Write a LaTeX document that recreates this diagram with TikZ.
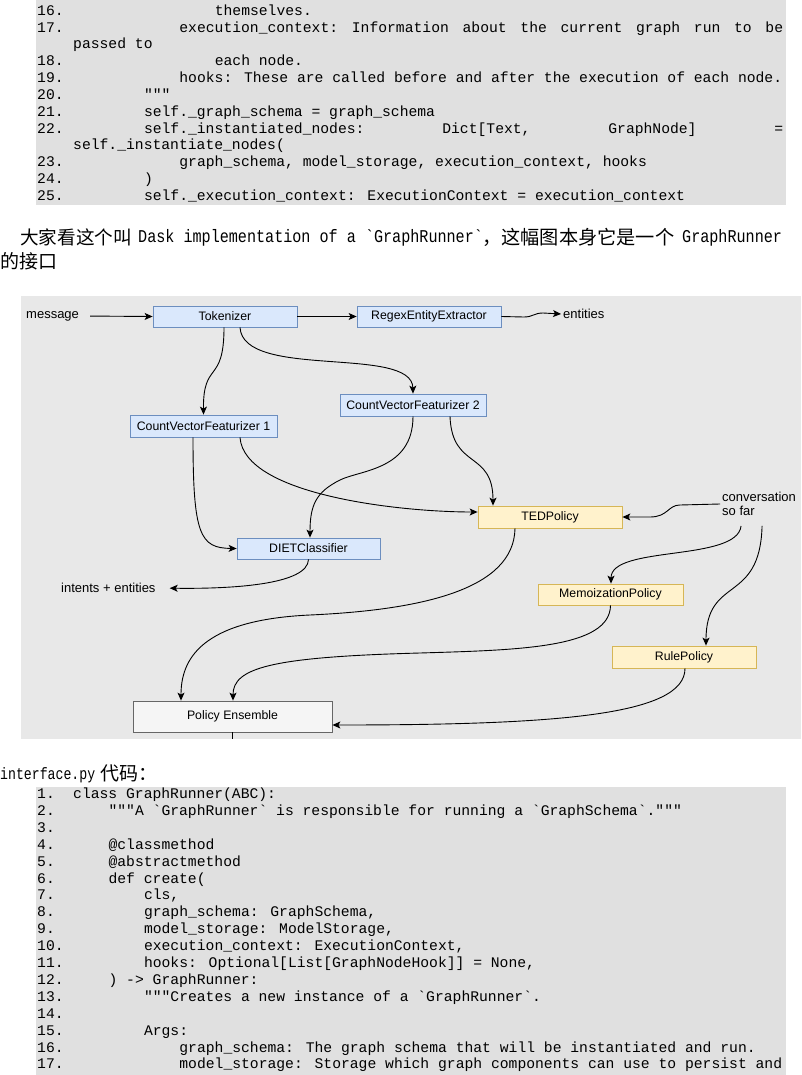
\documentclass[tikz,border=0pt]{standalone}
\usepackage{fontspec}
\usepackage{graphicx}
\setmainfont{Liberation Sans}
\newfontfamily\cjk{Noto Sans CJK SC}
\newfontfamily\mono{Liberation Mono}
\usetikzlibrary{arrows.meta}
\definecolor{codebg}{RGB}{224,224,224}
\definecolor{diagbg}{RGB}{232,232,232}
\definecolor{bluefill}{HTML}{DAE8FC}
\definecolor{bluebd}{HTML}{6C8EBF}
\definecolor{yelfill}{HTML}{FFF2CC}
\definecolor{yelbd}{HTML}{D6B656}
\definecolor{pefill}{HTML}{F5F5F5}
\definecolor{pebd}{HTML}{666666}
\newcommand\bq{\textasciigrave}
\newcommand\tq{\textquotedbl\textquotedbl\textquotedbl}
\newcommand\codefont{\mono\fontsize{14.7}{17}\selectfont}
\newcommand\proselat[1]{\scalebox{0.84}[1]{\mono\fontsize{18}{20}\selectfont #1}}
\begin{document}
\begin{tikzpicture}[x=1pt,y=-1pt,
 code/.style={anchor=base west,inner sep=0pt,font=\codefont},
 prose/.style={anchor=base west,inner sep=0pt},
 nbox/.style={minimum width=#1,minimum height=21pt,inner sep=0pt,line width=0.8pt,font=\fontsize{12.3}{14}\selectfont},
 nbox/.default=144pt,
 bluebox/.style={nbox=#1,draw=bluebd,fill=bluefill},
 bluebox/.default=144pt,
 yelbox/.style={nbox=#1,draw=yelbd,fill=yelfill},
 yelbox/.default=144pt,
 lbl/.style={inner sep=2pt,font=\fontsize{13}{14}\selectfont},
 arr/.style={-{Stealth[length=8pt,width=7pt,inset=2pt]},line width=0.9pt},
]
\useasboundingbox (0,0) rectangle (801,1075);
\fill[white] (0,0) rectangle (801,1075);
% ---------- code block 1 ----------
\fill[codebg] (36,0) rectangle (786,205);
\node[code] (n16) at (37,15.2) {16.};
\node[code] (t16) at (214.6,15.2) {themselves.};
\node[code] (n17) at (37,32.1) {17.};
\node[code] (t17) at (179.2,32.1) {\hbox to 603.8pt{execution\_context:\hfill Information\hfill about\hfill the\hfill current\hfill graph\hfill run\hfill to\hfill be}};
\node[code] (t17b) at (73,48.9) {passed to};
\node[code] (n18) at (37,65.8) {18.};
\node[code] (t18) at (214.6,65.8) {each node.};
\node[code] (n19) at (37,82.6) {19.};
\node[code] (t19) at (179.2,82.6) {hooks: These are called before and after the execution of each node.};
\node[code] (n20) at (37,99.5) {20.};
\node[code] (t20) at (143.8,99.5) {\tq};
\node[code] (n21) at (37,116.3) {21.};
\node[code] (t21) at (143.8,116.3) {self.\_graph\_schema = graph\_schema};
\node[code] (n22) at (37,133.2) {22.};
\node[code] (t22) at (143.8,133.2) {\hbox to 639.2pt{self.\_instantiated\_nodes:\hfill Dict[Text,\hfill GraphNode]\hfill =}};
\node[code] (t22b) at (73,150.0) {self.\_instantiate\_nodes(};
\node[code] (n23) at (37,166.9) {23.};
\node[code] (t23) at (179.2,166.9) {graph\_schema, model\_storage, execution\_context, hooks};
\node[code] (n24) at (37,183.7) {24.};
\node[code] (t24) at (143.8,183.7) {)};
\node[code] (n25) at (37,200.6) {25.};
\node[code] (t25) at (143.8,200.6) {self.\_execution\_context: ExecutionContext = execution\_context};
% ---------- prose ----------
\node[prose,font=\cjk\fontsize{18.6}{20}\selectfont] (p1) at (20,244) {大家看这个叫};
\node[prose] (p2) at (138,243) {\proselat{Dask implementation of a \bq GraphRunner\bq}};
\node[prose,font=\cjk\fontsize{19.2}{20}\selectfont] (p3) at (482,244) {，这幅图本身它是一个};
\node[prose] (p4) at (682,243) {\proselat{GraphRunner}};
\node[prose,font=\cjk\fontsize{19}{20}\selectfont] (p5) at (0,269) {的接口};
% ---------- diagram ----------
\fill[diagbg] (21,296) rectangle (801,739);
\node[bluebox] (tok) at (225,316.5) {Tokenizer};
\node[bluebox] (regex) at (429,316.5) {RegexEntityExtractor};
\node[bluebox=146pt,minimum height=22pt] (cvf2) at (413,405) {CountVectorFeaturizer 2};
\node[bluebox=147pt,minimum height=22pt] (cvf1) at (203.5,426) {CountVectorFeaturizer 1};
\node[bluebox=143pt] (diet) at (308.5,548.5) {DIETClassifier};
\node[yelbox,minimum height=22pt] (ted) at (550,517) {TEDPolicy};
\node[yelbox=145pt] (memo) at (610.5,594.5) {MemoizationPolicy};
\node[yelbox,minimum height=22pt] (rule) at (684,657) {RulePolicy};
\node[nbox=199pt,minimum height=31pt,draw=pebd,fill=pefill] (pe) at (232.5,716.5) {Policy Ensemble};
\node[lbl,anchor=west] (msg) at (24,316) {message};
\node[lbl,anchor=west] (ent) at (561,314) {entities};
\node[lbl,anchor=west,align=left] (conv) at (720,504) {conversation\\so far};
\node[lbl,anchor=west] (ie) at (59,588) {intents + entities};
\draw[arr,shorten <=9pt] (msg.east) -- (tok.west);
\draw[arr] (tok.east) -- (regex.west);
\draw[arr] (regex.east) -- (524,317) .. controls (533,317) and (534,313) .. (543,313) -- (ent.west);
\draw[arr] ([xshift=-1pt]tok.south) .. controls (224,385) and (203,360) .. (cvf1.north);
\draw[arr] ([xshift=15pt]tok.south) .. controls (243,380) and (412,345) .. (cvf2.north);
\draw[arr] ([xshift=-10.5pt]cvf1.south) .. controls (193,535) and (200,548) .. (diet.west);
\draw[arr] ([xshift=36.5pt]cvf1.south) .. controls (244,495) and (400,512) .. ([yshift=5pt]ted.west);
\draw[arr] (cvf2.south) .. controls (413,470) and (360,470) .. (340,480) .. controls (316,492) and (310,505) .. ([xshift=1.5pt]diet.north);
\draw[arr] ([xshift=37pt]cvf2.south) .. controls (452,470) and (493,450) .. ([xshift=-57pt]ted.north);
\draw[arr,shorten >=12pt] (diet.south) .. controls (308,585) and (230,589) .. (ie.east);
\draw[arr] (conv.west) -- (680,505) .. controls (668,505) and (668,517) .. (650,517) -- (ted.east);
\draw[arr] ([xshift=-18pt,yshift=-8pt]conv.south) .. controls (737,562) and (611,545) .. ([xshift=0.5pt]memo.north);
\draw[arr] ([xshift=3pt,yshift=-8pt]conv.south) .. controls (760,605) and (706,575) .. ([xshift=22pt]rule.north);
\draw[arr] ([xshift=-35pt]ted.south) .. controls (514,590) and (420,610) .. (310,615) .. controls (200,620) and (181,660) .. ([xshift=-51.5pt]pe.north);
\draw[arr] (memo.south) .. controls (610,648) and (520,650) .. (420,653) .. controls (270,657) and (233,668) .. ([xshift=0.5pt]pe.north);
\draw[arr] ([xshift=1pt]rule.south) .. controls (685,715) and (560,725) .. ([yshift=-8.5pt]pe.east);
\draw[line width=0.9pt] (pe.south) -- ++(0,6.5);
% ---------- prose 2 ----------
\node[prose] (p6) at (0,779) {\scalebox{0.8}[1]{\mono\fontsize{16.5}{18}\selectfont interface.py}};
\node[prose,font=\cjk\fontsize{19}{20}\selectfont] (p7) at (100,780) {代码：};
% ---------- code block 2 ----------
\fill[codebg] (36,787) rectangle (786,1075);
\node[code] (m1) at (37,798.5) {1.};
\node[code] (u1) at (73,798.5) {class GraphRunner(ABC):};
\node[code] (m2) at (37,815.4) {2.};
\node[code] (u2) at (108.4,815.4) {\tq A \bq GraphRunner\bq\ is responsible for running a \bq GraphSchema\bq.\tq};
\node[code] (m3) at (37,832.3) {3.};
\node[code] (m4) at (37,849.2) {4.};
\node[code] (u4) at (108.4,849.2) {@classmethod};
\node[code] (m5) at (37,866.1) {5.};
\node[code] (u5) at (108.4,866.1) {@abstractmethod};
\node[code] (m6) at (37,883.0) {6.};
\node[code] (u6) at (108.4,883.0) {def create(};
\node[code] (m7) at (37,899.9) {7.};
\node[code] (u7) at (143.8,899.9) {cls,};
\node[code] (m8) at (37,916.8) {8.};
\node[code] (u8) at (143.8,916.8) {graph\_schema: GraphSchema,};
\node[code] (m9) at (37,933.7) {9.};
\node[code] (u9) at (143.8,933.7) {model\_storage: ModelStorage,};
\node[code] (m10) at (37,950.6) {10.};
\node[code] (u10) at (143.8,950.6) {execution\_context: ExecutionContext,};
\node[code] (m11) at (37,967.5) {11.};
\node[code] (u11) at (143.8,967.5) {hooks: Optional[List[GraphNodeHook]] = None,};
\node[code] (m12) at (37,984.4) {12.};
\node[code] (u12) at (108.4,984.4) {) -> GraphRunner:};
\node[code] (m13) at (37,1001.3) {13.};
\node[code] (u13) at (143.8,1001.3) {\tq Creates a new instance of a \bq GraphRunner\bq.};
\node[code] (m14) at (37,1018.2) {14.};
\node[code] (m15) at (37,1035.1) {15.};
\node[code] (u15) at (143.8,1035.1) {Args:};
\node[code] (m16) at (37,1052.0) {16.};
\node[code] (u16) at (179.2,1052.0) {graph\_schema: The graph schema that will be instantiated and run.};
\node[code] (m17) at (37,1068.9) {17.};
\node[code] (u17) at (179.2,1068.9) {model\_storage: Storage which graph components can use to persist and};
\end{tikzpicture}
\end{document}
